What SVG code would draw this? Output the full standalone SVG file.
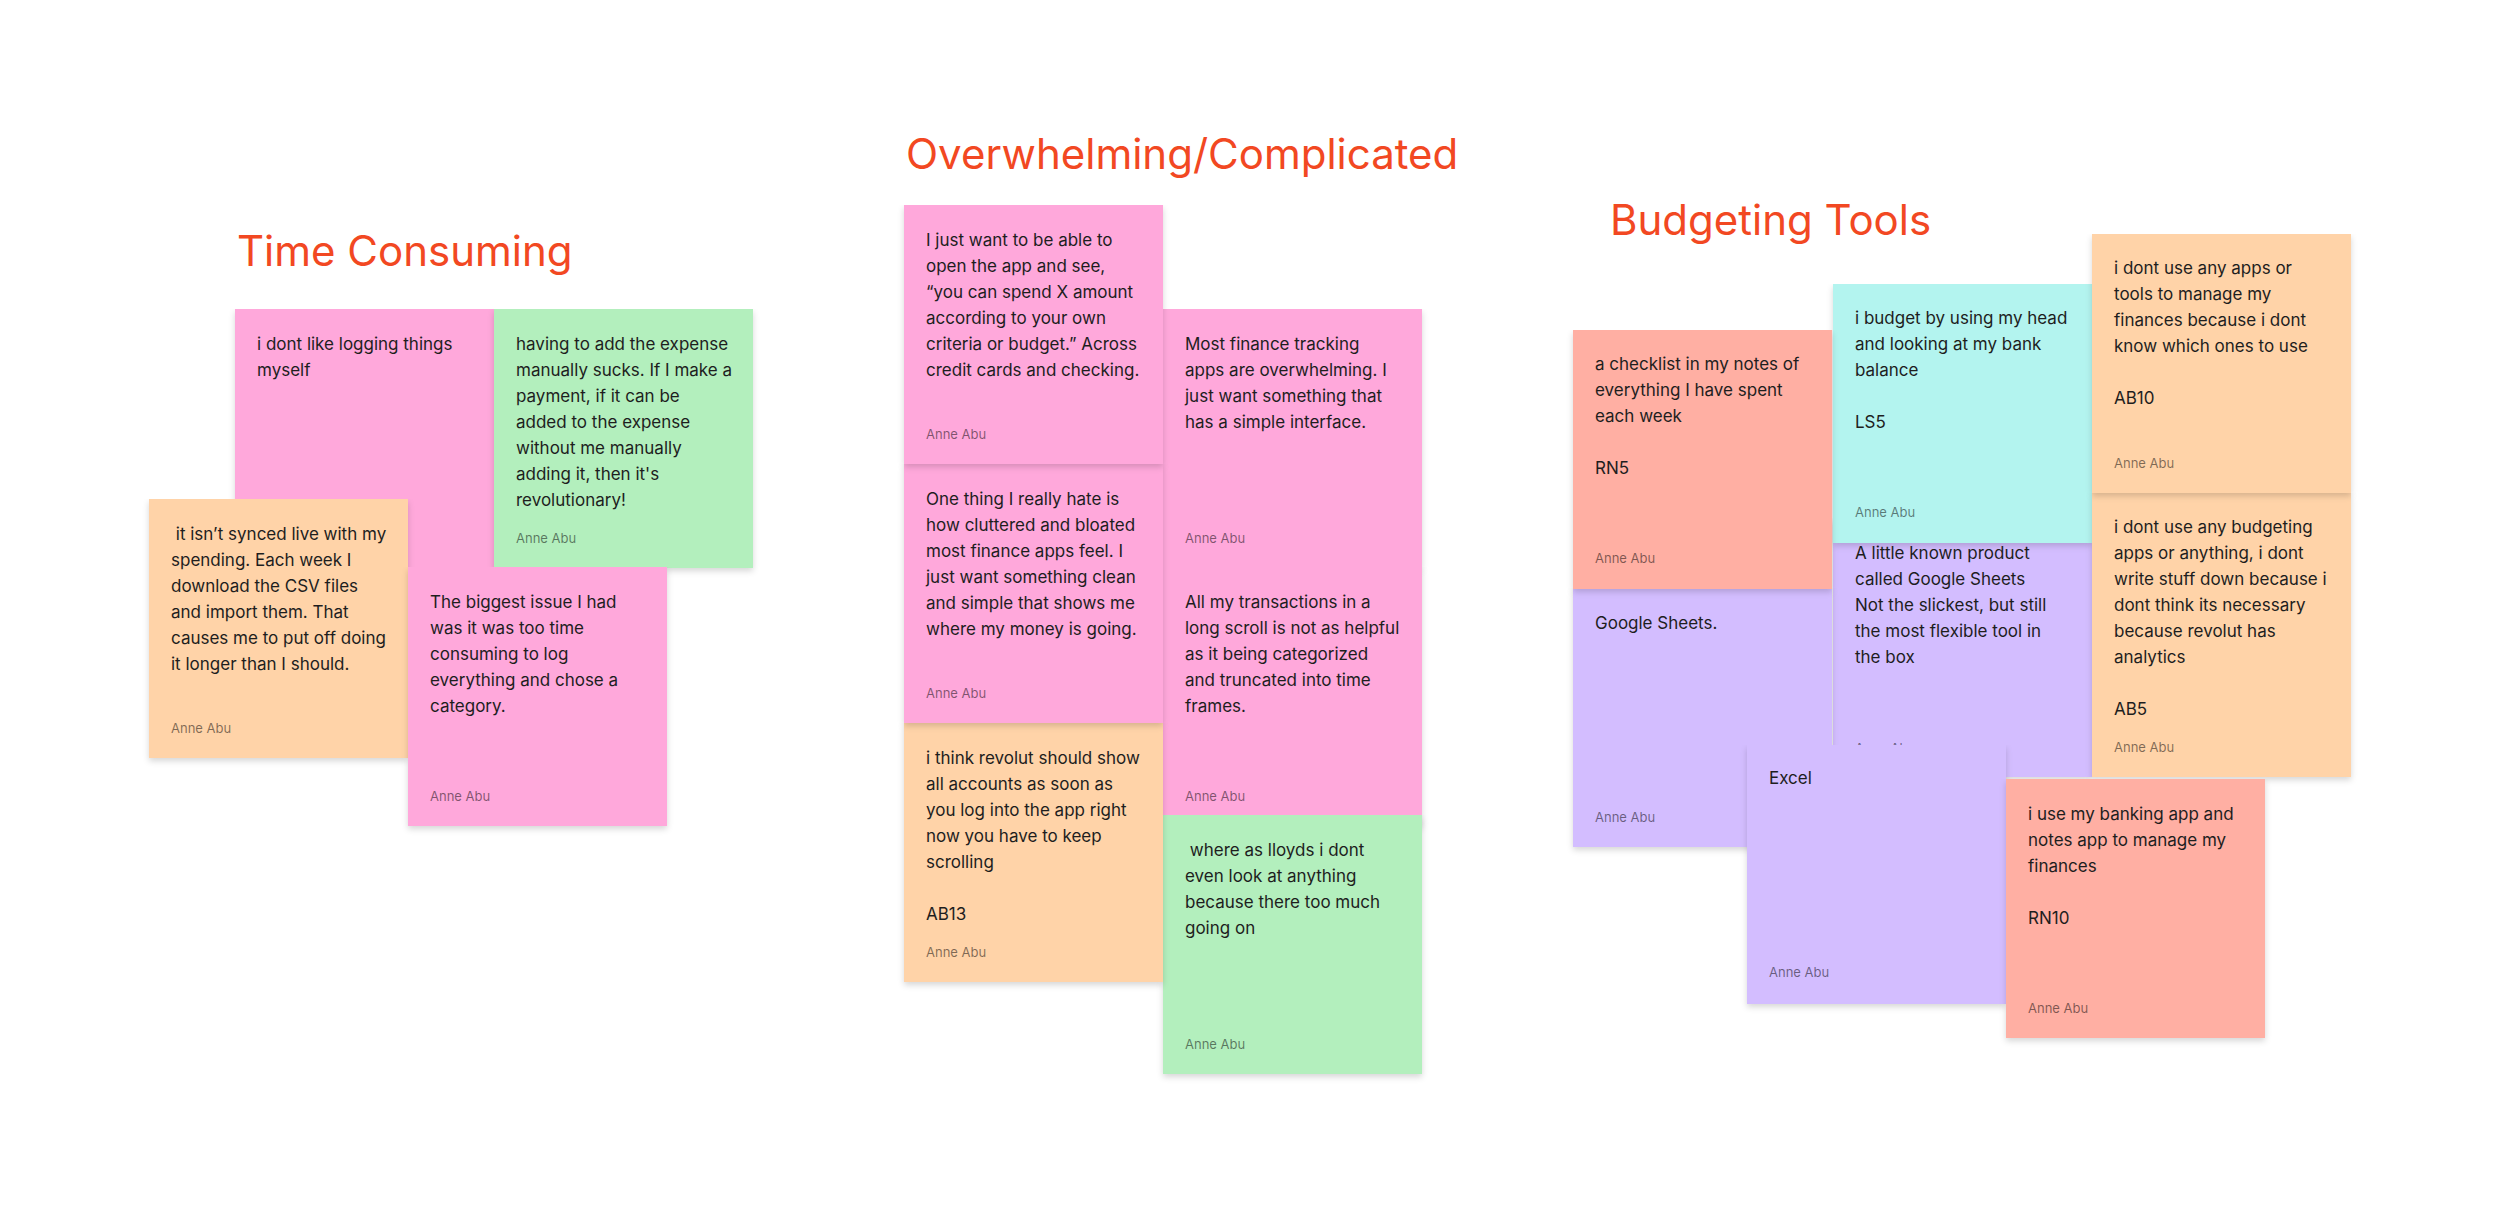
<svg xmlns="http://www.w3.org/2000/svg" width="2500" height="1231" viewBox="0 0 2500 1231">
<defs>
<filter id="sh" x="-10%" y="0%" width="120%" height="115%">
<feDropShadow dx="0" dy="3" stdDeviation="3" flood-color="#000" flood-opacity="0.16"/>
</filter>
<style>
.n{filter:url(#sh)}
.pink{fill:#FFA8DB}.green{fill:#B3EFBD}.orange{fill:#FFD3A8}.salmon{fill:#FFAFA3}.cyan{fill:#B3F4EF}.purple{fill:#D3BDFF}
.t{font-family:Inter,"Noto Sans","Liberation Sans",sans-serif;font-size:17px;fill:#1E1E1E}
.a{font-family:Inter,"Noto Sans","Liberation Sans",sans-serif;font-size:13px;fill:#000;fill-opacity:0.5}
.h{font-family:Inter,"Noto Sans","Liberation Sans",sans-serif;font-size:42px;fill:#F24822}
</style>
</defs>
<rect width="2500" height="1231" fill="#fff"/>

<g id="titles">
<text class="h" x="237" y="266">Time Consuming</text>
<text class="h" x="906" y="169">Overwhelming/Complicated</text>
<text class="h" x="1610" y="235">Budgeting Tools</text>
</g>

<!-- Time Consuming -->
<g id="tc1"><rect class="n pink" x="235" y="309" width="259" height="259"/>
<text class="t" x="257" y="350"><tspan x="257">i dont like logging things</tspan><tspan x="257" dy="26">myself</tspan></text></g>
<g id="tc2"><rect class="n green" x="494" y="309" width="259" height="259"/>
<text class="t" x="516" y="350"><tspan x="516">having to add the expense</tspan><tspan x="516" dy="26">manually sucks. If I make a</tspan><tspan x="516" dy="26">payment, if it can be</tspan><tspan x="516" dy="26">added to the expense</tspan><tspan x="516" dy="26">without me manually</tspan><tspan x="516" dy="26">adding it, then it's</tspan><tspan x="516" dy="26">revolutionary!</tspan></text>
<text class="a" x="516" y="543">Anne Abu</text></g>
<g id="tc3"><rect class="n orange" x="149" y="499" width="259" height="259"/>
<text class="t" x="171" y="540" xml:space="preserve"><tspan x="171"> it isn’t synced live with my</tspan><tspan x="171" dy="26">spending. Each week I</tspan><tspan x="171" dy="26">download the CSV files</tspan><tspan x="171" dy="26">and import them. That</tspan><tspan x="171" dy="26">causes me to put off doing</tspan><tspan x="171" dy="26">it longer than I should.</tspan></text>
<text class="a" x="171" y="733">Anne Abu</text></g>
<g id="tc4"><rect class="n pink" x="408" y="567" width="259" height="259"/>
<text class="t" x="430" y="608"><tspan x="430">The biggest issue I had</tspan><tspan x="430" dy="26">was it was too time</tspan><tspan x="430" dy="26">consuming to log</tspan><tspan x="430" dy="26">everything and chose a</tspan><tspan x="430" dy="26">category.</tspan></text>
<text class="a" x="430" y="801">Anne Abu</text></g>

<!-- Overwhelming -->
<g id="ov2"><rect class="n pink" x="1163" y="309" width="259" height="259"/>
<text class="t" x="1185" y="350"><tspan x="1185">Most finance tracking</tspan><tspan x="1185" dy="26">apps are overwhelming. I</tspan><tspan x="1185" dy="26">just want something that</tspan><tspan x="1185" dy="26">has a simple interface.</tspan></text>
<text class="a" x="1185" y="543">Anne Abu</text></g>
<g id="ov4"><rect class="n pink" x="1163" y="567" width="259" height="259"/>
<text class="t" x="1185" y="608"><tspan x="1185">All my transactions in a</tspan><tspan x="1185" dy="26">long scroll is not as helpful</tspan><tspan x="1185" dy="26">as it being categorized</tspan><tspan x="1185" dy="26">and truncated into time</tspan><tspan x="1185" dy="26">frames.</tspan></text>
<text class="a" x="1185" y="801">Anne Abu</text></g>
<g id="ov6"><rect class="n green" x="1163" y="815" width="259" height="259"/>
<text class="t" x="1185" y="856" xml:space="preserve"><tspan x="1185"> where as lloyds i dont</tspan><tspan x="1185" dy="26">even look at anything</tspan><tspan x="1185" dy="26">because there too much</tspan><tspan x="1185" dy="26">going on</tspan></text>
<text class="a" x="1185" y="1049">Anne Abu</text></g>
<g id="ov5"><rect class="n orange" x="904" y="723" width="259" height="259"/>
<text class="t" x="926" y="764"><tspan x="926">i think revolut should show</tspan><tspan x="926" dy="26">all accounts as soon as</tspan><tspan x="926" dy="26">you log into the app right</tspan><tspan x="926" dy="26">now you have to keep</tspan><tspan x="926" dy="26">scrolling</tspan><tspan x="926" dy="52">AB13</tspan></text>
<text class="a" x="926" y="957">Anne Abu</text></g>
<g id="ov3"><rect class="n pink" x="904" y="464" width="259" height="259"/>
<text class="t" x="926" y="505"><tspan x="926">One thing I really hate is</tspan><tspan x="926" dy="26">how cluttered and bloated</tspan><tspan x="926" dy="26">most finance apps feel. I</tspan><tspan x="926" dy="26">just want something clean</tspan><tspan x="926" dy="26">and simple that shows me</tspan><tspan x="926" dy="26">where my money is going.</tspan></text>
<text class="a" x="926" y="698">Anne Abu</text></g>
<g id="ov1"><rect class="n pink" x="904" y="205" width="259" height="259"/>
<text class="t" x="926" y="246"><tspan x="926">I just want to be able to</tspan><tspan x="926" dy="26">open the app and see,</tspan><tspan x="926" dy="26">“you can spend X amount</tspan><tspan x="926" dy="26">according to your own</tspan><tspan x="926" dy="26">criteria or budget.” Across</tspan><tspan x="926" dy="26">credit cards and checking.</tspan></text>
<text class="a" x="926" y="439">Anne Abu</text></g>

<!-- Budgeting Tools -->
<g id="bt4"><rect class="n purple" x="1833" y="518" width="259" height="259"/>
<text class="t" x="1855" y="559"><tspan x="1855">A little known product</tspan><tspan x="1855" dy="26">called Google Sheets</tspan><tspan x="1855" dy="26">Not the slickest, but still</tspan><tspan x="1855" dy="26">the most flexible tool in</tspan><tspan x="1855" dy="26">the box</tspan></text>
<text class="a" x="1855" y="753">Anne Abu</text></g>
<g id="bt2"><rect class="n cyan" x="1833" y="284" width="259" height="259"/>
<text class="t" x="1855" y="324"><tspan x="1855">i budget by using my head</tspan><tspan x="1855" dy="26">and looking at my bank</tspan><tspan x="1855" dy="26">balance</tspan><tspan x="1855" dy="52">LS5</tspan></text>
<text class="a" x="1855" y="517">Anne Abu</text></g>
<g id="bt3"><rect class="n purple" x="1573" y="588" width="259" height="259"/>
<text class="t" x="1595" y="629">Google Sheets.</text>
<text class="a" x="1595" y="822">Anne Abu</text></g>
<g id="bt1"><rect class="n salmon" x="1573" y="330" width="259" height="259"/>
<text class="t" x="1595" y="370"><tspan x="1595">a checklist in my notes of</tspan><tspan x="1595" dy="26">everything I have spent</tspan><tspan x="1595" dy="26">each week</tspan><tspan x="1595" dy="52">RN5</tspan></text>
<text class="a" x="1595" y="563">Anne Abu</text></g>
<g id="bt5"><rect class="n purple" x="1747" y="745" width="259" height="259"/>
<text class="t" x="1769" y="784">Excel</text>
<text class="a" x="1769" y="977">Anne Abu</text></g>
<g id="bt7"><rect class="n orange" x="2092" y="493" width="259" height="284"/>
<text class="t" x="2114" y="533"><tspan x="2114">i dont use any budgeting</tspan><tspan x="2114" dy="26">apps or anything, i dont</tspan><tspan x="2114" dy="26">write stuff down because i</tspan><tspan x="2114" dy="26">dont think its necessary</tspan><tspan x="2114" dy="26">because revolut has</tspan><tspan x="2114" dy="26">analytics</tspan><tspan x="2114" dy="52">AB5</tspan></text>
<text class="a" x="2114" y="752">Anne Abu</text></g>
<g id="bt6"><rect class="n orange" x="2092" y="234" width="259" height="259"/>
<text class="t" x="2114" y="274"><tspan x="2114">i dont use any apps or</tspan><tspan x="2114" dy="26">tools to manage my</tspan><tspan x="2114" dy="26">finances because i dont</tspan><tspan x="2114" dy="26">know which ones to use</tspan><tspan x="2114" dy="52">AB10</tspan></text>
<text class="a" x="2114" y="468">Anne Abu</text></g>
<g id="bt8"><rect class="n salmon" x="2006" y="779" width="259" height="259"/>
<text class="t" x="2028" y="820"><tspan x="2028">i use my banking app and</tspan><tspan x="2028" dy="26">notes app to manage my</tspan><tspan x="2028" dy="26">finances</tspan><tspan x="2028" dy="52">RN10</tspan></text>
<text class="a" x="2028" y="1013">Anne Abu</text></g>
</svg>
